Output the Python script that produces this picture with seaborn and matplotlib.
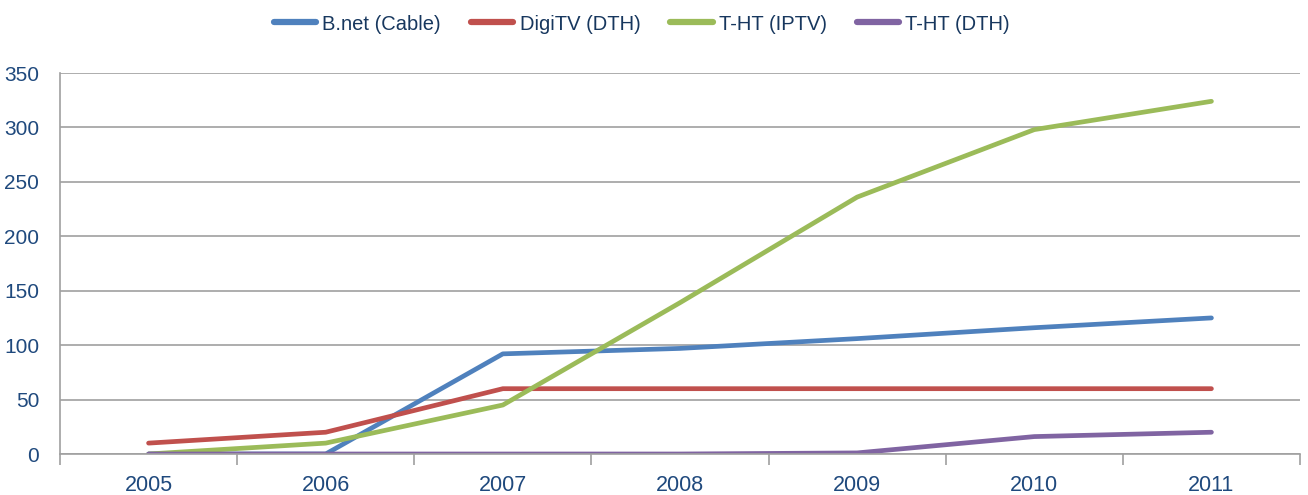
import pandas as pd
import numpy as np
import matplotlib
matplotlib.use("Agg")
import matplotlib.pyplot as plt
import seaborn as sns

years = ['2005', '2006', '2007', '2008', '2009', '2010', '2011']
bnet = [0, 0, 92, 97, 106, 116, 125]
digitv = [10, 20, 60, 60, 60, 60, 60]
tht_iptv = [0, 10, 45, 139, 236, 298, 324]
tht_dth = [0, 0, 0, 0, 1, 16, 20]

series_names = ['B.net (Cable)', 'DigiTV (DTH)', 'T-HT (IPTV)', 'T-HT (DTH)']
colors = ['#4F81BD', '#C0504D', '#9BBB59', '#8064A2']

df = pd.DataFrame({
    'pos': list(range(len(years))) * 4,
    'value': bnet + digitv + tht_iptv + tht_dth,
    'series': [s for s in series_names for _ in years],
})

sns.set_style('white')
plt.rcParams['font.family'] = ['Liberation Sans', 'DejaVu Sans']
text_color = '#1F497D'

fig = plt.figure(figsize=(13.08, 4.95), dpi=100)
ax = fig.add_axes([60 / 1308, 1 - 454 / 495, 1240 / 1308, 381 / 495])

sns.lineplot(data=df, x='pos', y='value', hue='series', palette=colors,
             hue_order=series_names, linewidth=3.4, ax=ax, sort=False,
             solid_capstyle='round', legend=True)

ax.set_xlim(-0.5, len(years) - 0.5)
ax.set_ylim(0, 350)
ax.set_yticks(range(0, 351, 50))
ax.set_xticks(range(len(years)))
ax.set_xticklabels(years)
ax.set_xticks(np.arange(-0.5, len(years), 1), minor=True)
ax.grid(axis='y', color='#A0A0A0', linewidth=1.2)
ax.set_axisbelow(True)
ax.set_xlabel('')
ax.set_ylabel('')

for side in ['top', 'right']:
    ax.spines[side].set_visible(False)
for side in ['left', 'bottom']:
    ax.spines[side].set_color('#A0A0A0')
    ax.spines[side].set_linewidth(1.2)

ax.tick_params(axis='x', which='major', length=0, pad=15, labelsize=15.5, labelcolor=text_color)
ax.tick_params(axis='x', which='minor', length=8, color='#A0A0A0', width=1.2,
               direction='out', bottom=True)
ax.tick_params(axis='y', length=6, color='#A0A0A0', width=1.2, labelsize=15,
               labelcolor=text_color, direction='out', pad=9)

handles, labels = ax.get_legend_handles_labels()
ax.get_legend().remove()
leg = fig.legend(handles, labels, loc='center', bbox_to_anchor=(642 / 1308, 1 - 24 / 495),
                 ncol=4, frameon=False, fontsize=14.5, handlelength=2.1,
                 columnspacing=1.5, handletextpad=0.3)
for t in leg.get_texts():
    t.set_color('#17375E')
for h in leg.get_lines():
    h.set_linewidth(4.5)

fig.savefig('out.png', dpi=100)
